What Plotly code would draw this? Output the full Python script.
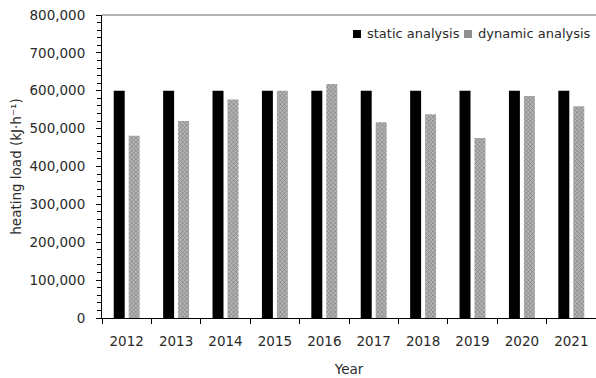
import plotly.graph_objects as go

years = ["2012", "2013", "2014", "2015", "2016", "2017", "2018", "2019", "2020", "2021"]
static_load = [600000] * 10
dynamic_load = [481000, 520000, 577000, 600000, 618000, 517000, 538000, 475000, 586000, 559000]

series_names = ["static analysis", "dynamic analysis"]

FONT = "DejaVu Sans"
FS = 13.5
TXT = "#2a2a2a"

fig = go.Figure()
fig.add_trace(go.Bar(
    x=years, y=static_load, name=series_names[0],
    marker=dict(color="#000000", line=dict(width=0)),
    showlegend=False,
))
fig.add_trace(go.Bar(
    x=years, y=dynamic_load, name=series_names[1],
    marker=dict(
        color="#939393",
        line=dict(width=0),
        pattern=dict(shape="x", size=3, solidity=0.3,
                     fgcolor="#6a6a6a", bgcolor="#b4b4b4", fillmode="replace"),
    ),
    showlegend=False,
))

# plot area in pixels: x 102..596, y 15..318
def px_x(p):
    return (p - 102) / 494.0

def px_y(p):
    return (318 - p) / 303.0

shapes = [
    # top border line
    dict(type="line", xref="paper", yref="paper", x0=0, x1=1, y0=1, y1=1,
         line=dict(color="#666666", width=1)),
    # legend swatches
    dict(type="rect", xref="paper", yref="paper",
         x0=px_x(353), x1=px_x(361), y0=px_y(38), y1=px_y(30),
         fillcolor="#000000", line=dict(width=0)),
    dict(type="rect", xref="paper", yref="paper",
         x0=px_x(464), x1=px_x(472), y0=px_y(38), y1=px_y(30),
         fillcolor="#8f8f8f", line=dict(width=0)),
]

annotations = [
    dict(text=series_names[0], xref="paper", yref="paper", x=px_x(365), y=px_y(34),
         xanchor="left", yanchor="middle", showarrow=False,
         font=dict(family=FONT, size=13, color=TXT)),
    dict(text=series_names[1], xref="paper", yref="paper", x=px_x(476), y=px_y(34),
         xanchor="left", yanchor="middle", showarrow=False,
         font=dict(family=FONT, size=13, color=TXT)),
]

fig.update_layout(
    width=596, height=378,
    margin=dict(l=102, r=0, t=15, b=60),
    paper_bgcolor="white", plot_bgcolor="white",
    barmode="group", bargap=0.394, bargroupgap=0.267,
    font=dict(family=FONT, size=FS, color=TXT),
    shapes=shapes, annotations=annotations,
    xaxis=dict(
        type="category",
        showline=True, linecolor="#000000", linewidth=1,
        ticks="outside", ticklen=5, tickcolor="#000000", tickson="boundaries",
        ticklabelstandoff=11,
        tickfont=dict(family=FONT, size=FS, color=TXT),
        showgrid=False, zeroline=False,
        title=dict(text="Year", standoff=16, font=dict(family=FONT, size=FS, color=TXT)),
    ),
    yaxis=dict(
        range=[0, 800000], dtick=100000, tickformat=",",
        showline=True, linecolor="#000000", linewidth=1,
        ticks="outside", ticklen=5, tickcolor="#000000",
        minor=dict(dtick=20000, ticks="outside", ticklen=4, tickcolor="#000000"),
        ticklabelstandoff=8,
        tickfont=dict(family=FONT, size=FS, color=TXT),
        showgrid=False, zeroline=False,
        title=dict(text="heating load (kJ·h⁻¹)", standoff=4,
                   font=dict(family=FONT, size=FS, color=TXT)),
    ),
)

fig.write_html("out.html")
